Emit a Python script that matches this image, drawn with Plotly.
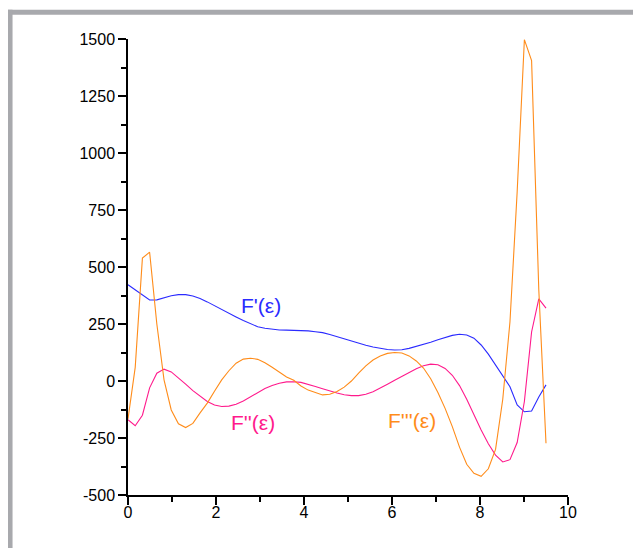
import numpy as np
import plotly.graph_objects as go

# sample positions (epsilon), 59 samples from 0 to 9.5
eps = np.linspace(0, 9.5, 59)

f1 = [422, 400, 375, 355, 356, 365, 374, 379, 379, 373,
      362, 347, 330, 312, 297, 281, 265, 251, 238, 231,
      226, 224, 223, 223, 222, 220, 216, 212, 204, 194,
      184, 175, 166, 157, 149, 142, 138, 136, 137, 143,
      151, 160, 170, 181, 191, 200, 205, 202, 188, 158,
      118, 72, 25, -25, -105, -135, -132, -70, -17]

f2 = [-170, -196, -150, -30, 34, 52, 40, 15, -14, -42,
      -68, -90, -105, -112, -110, -102, -88, -70, -50, -33,
      -20, -10, -4, -3, -6, -14, -24, -34, -44, -53,
      -60, -64, -64, -58, -47, -32, -14, 3, 20, 38,
      54, 67, 74, 71, 55, 25, -20, -80, -150, -215,
      -275, -325, -355, -345, -270, -90, 215, 360, 320]

f3 = [-166, 60, 539, 565, 250, 5, -127, -188, -204, -186,
      -140, -97, -45, 5, 45, 78, 96, 100, 95, 80,
      60, 38, 18, 3, -22, -40, -52, -61, -58, -46,
      -27, 0, 35, 66, 92, 110, 121, 125, 123, 110,
      88, 57, 10, -50, -120, -200, -290, -365, -405, -418,
      -385, -300, -80, 260, 830, 1497, 1405, 400, -273]

labels = ["F'(\u03b5)", "F''(\u03b5)", "F'''(\u03b5)"]
label_x = [3.02, 2.83, 6.46]
label_y = [330, -182, -175]
colors = ["#2b2bff", "#ff1a8c", "#ff8c1a"]

x_ticks = [0, 2, 4, 6, 8, 10]
y_ticks = [-500, -250, 0, 250, 500, 750, 1000, 1250, 1500]

fig = go.Figure()
for ys, c in zip([f1, f2, f3], colors):
    fig.add_trace(go.Scatter(x=eps, y=ys, mode="lines",
                             line=dict(color=c, width=1.1),
                             showlegend=False, hoverinfo="skip"))

for t, lx, ly, c in zip(labels, label_x, label_y, colors):
    fig.add_annotation(x=lx, y=ly, text=t, showarrow=False,
                       font=dict(family="Liberation Sans, Arial", size=21, color=c),
                       xanchor="center", yanchor="middle")

axis_common = dict(showline=True, linecolor="black", linewidth=1.5,
                   ticks="outside", ticklen=8, tickwidth=1.5, tickcolor="black",
                   showgrid=False, zeroline=False,
                   tickfont=dict(family="Liberation Sans, Arial", size=16, color="black"))

fig.update_xaxes(range=[0, 10], tickvals=x_ticks, ticktext=[str(v) for v in x_ticks],
                 ticklabelstandoff=-6,
                 minor=dict(ticks="outside", ticklen=5, tickwidth=1.5, tickcolor="black",
                            dtick=1, tick0=0, showgrid=False),
                 **axis_common)
fig.update_yaxes(range=[-500, 1500], tickvals=y_ticks, ticktext=[str(v) for v in y_ticks],
                 minor=dict(ticks="outside", ticklen=5, tickwidth=1.5, tickcolor="black",
                            dtick=125, tick0=-500, showgrid=False),
                 **axis_common)

# gray frame (top and left bands)
frame = "#a8a9ad"
fig.add_shape(type="rect", xref="paper", yref="paper",
              x0=-0.2737, x1=1.25, y0=1.0533, y1=1.0643,
              fillcolor=frame, line=dict(width=0), layer="below")
fig.add_shape(type="rect", xref="paper", yref="paper",
              x0=-0.2737, x1=-0.2624, y0=-0.16, y1=1.0643,
              fillcolor=frame, line=dict(width=0), layer="below")

fig.update_layout(width=641, height=548,
                  margin=dict(l=119.5, r=81.3, t=31.3, b=61),
                  paper_bgcolor="white", plot_bgcolor="white")

fig.write_html("out.html")
